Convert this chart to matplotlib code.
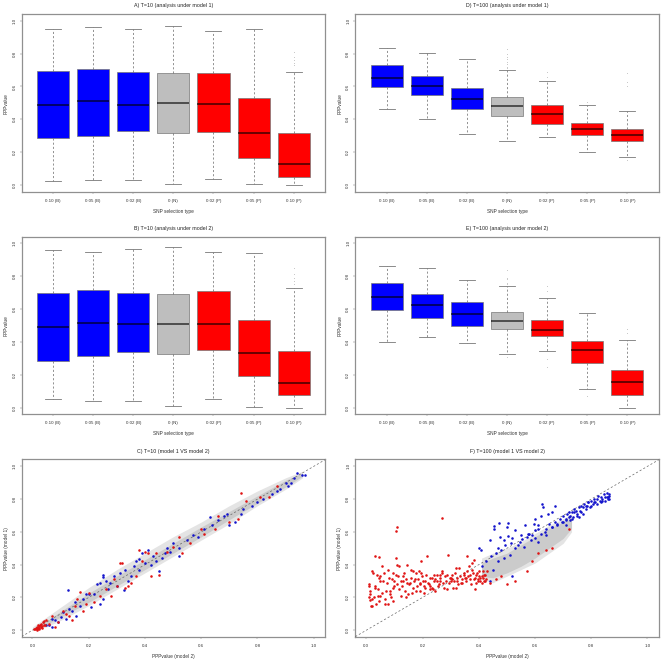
import matplotlib
matplotlib.use("Agg")
import matplotlib.pyplot as plt

plt.rcParams['font.family'] = ['Liberation Sans', 'DejaVu Sans']

# Box statistics, one value per SNP selection type
snp_labels = ['0.10 (B)', '0.05 (B)', '0.02 (B)', '0 (N)', '0.02 (P)', '0.05 (P)', '0.10 (P)']
box_colors = ['#0000ff', '#0000ff', '#0000ff', '#bebebe', '#ff0000', '#ff0000', '#ff0000']

a_hi = [.949, .961, .951, .970, .937, .949, .687]
a_q3 = [.693, .707, .691, .681, .683, .528, .319]
a_med = [.488, .514, .490, .502, .494, .317, .128]
a_q1 = [.285, .297, .329, .315, .323, .167, .051]
a_lo = [.022, .033, .028, .004, .039, .004, .000]
a_fliers = [[], [], [], [], [], [], [.813, .78, .76, .745, .73]]

d_hi = [.833, .803, .768, .699, .632, .486, .449]
d_q3 = [.728, .663, .593, .535, .486, .378, .341]
d_med = [.654, .600, .526, .478, .433, .343, .305]
d_q1 = [.596, .547, .463, .423, .374, .305, .266]
d_lo = [.461, .400, .309, .266, .291, .199, .169]
d_fliers = [[], [], [], [.827, .80, .78, .765, .75, .735, .72, .71], [.687, .66], [.508], [.685, .63, .604, .152]]

b_hi = [.956, .944, .966, .974, .944, .938, .728]
b_q3 = [.696, .716, .698, .690, .708, .532, .345]
b_med = [.494, .518, .508, .512, .510, .335, .155]
b_q1 = [.286, .319, .339, .331, .351, .194, .079]
b_lo = [.054, .042, .042, .012, .054, .010, .000]
b_fliers = [[], [], [], [], [], [], [.847, .81, .79, .77, .75]]

e_hi = [.859, .847, .774, .738, .665, .575, .411]
e_q3 = [.758, .692, .641, .583, .532, .405, .230]
e_med = [.673, .625, .569, .526, .472, .351, .159]
e_q1 = [.595, .546, .496, .478, .435, .276, .083]
e_lo = [.403, .429, .393, .327, .345, .115, .004]
e_fliers = [[], [], [], [.837, .79, .78, .76, .75, .308], [.742, .712, .296, .248], [.075], [.478, .454]]

# Scatter panels: model 2 on x, model 1 on y, read point by point
c_band_x = [.00, .05, .10, .20, .30, .40, .50, .60, .70, .80, .90, .96]
c_band_lo = [.00, .035, .08, .17, .27, .37, .47, .57, .675, .775, .875, .94]
c_band_hi = [.01, .055, .115, .225, .33, .43, .53, .63, .725, .82, .915, .96]
c_pale_lo = [.00, .02, .06, .15, .25, .35, .45, .55, .65, .76, .86, .93]
c_pale_hi = [.02, .08, .14, .26, .37, .47, .57, .66, .76, .85, .93, .97]

c_blue_x = [.125, .250, .250, .240, .260, .275, .230, .190, .200, .130,
            .150, .170, .180, .220, .210, .250, .240, .070, .060, .070,
            .090, .110, .120, .155, .050, .330, .340, .325, .360, .370,
            .380, .390, .380, .410, .430, .440, .460, .450, .480, .490,
            .500, .520, .520, .550, .570, .590, .610, .630, .660, .690,
            .700, .720, .750, .780, .820, .850, .880, .900, .920, .940,
            .960, .970, .930, .300, .290, .350, .420, .400, .270, .310,
            .640, .680, .740, .800, .870, .910, .080, .100, .140, .470]
c_blue_y = [.247, .340, .325, .290, .300, .290, .285, .220, .220, .130,
            .170, .150, .190, .220, .140, .190, .160, .070, .030, .020,
            .050, .110, .070, .090, .030, .370, .300, .245, .390, .420,
            .370, .470, .435, .490, .450, .420, .440, .360, .500, .480,
            .535, .500, .450, .550, .580, .570, .620, .690, .670, .710,
            .640, .660, .740, .760, .800, .830, .860, .900, .900, .960,
            .950, .950, .930, .270, .330, .330, .400, .410, .250, .350,
            .640, .700, .710, .780, .850, .880, .060, .080, .120, .470]
c_red_x = [.170, .740, .380, .400, .320, .310, .410, .420, .390, .440,
           .050, .070, .090, .110, .130, .160, .180, .200, .220, .260,
           .280, .300, .330, .350, .480, .520, .530, .560, .600, .610,
           .660, .700, .730, .760, .810, .840, .870, .060, .080, .120,
           .140, .150, .190, .240, .290, .340, .370, .450, .500, .650,
           .005, .010, .012, .015, .018, .020, .022, .025, .028, .030,
           .032, .035, .038, .040, .042, .015, .025, .035, .045, .020]
c_red_y = [.235, .835, .490, .480, .410, .410, .470, .330, .420, .470,
           .060, .090, .050, .120, .090, .190, .120, .230, .170, .250,
           .210, .270, .260, .290, .480, .570, .470, .530, .620, .590,
           .700, .660, .680, .790, .810, .810, .880, .040, .020, .100,
           .060, .150, .160, .210, .310, .270, .330, .340, .510, .620,
           .005, .006, .012, .010, .020, .012, .025, .015, .035, .020,
           .040, .025, .050, .030, .055, .003, .005, .015, .035, .030]

f_band_x = [.41, .45, .50, .55, .60, .65, .70, .73]
f_band_lo = [.33, .32, .35, .39, .44, .50, .56, .62]
f_band_hi = [.41, .44, .47, .52, .57, .62, .66, .68]
f_pale_lo = [.31, .29, .33, .37, .41, .47, .53, .60]
f_pale_hi = [.44, .47, .50, .54, .59, .64, .68, .71]

f_blue_x = [.402, .407, .455, .453, .471, .503, .499, .441, .475, .490,
            .505, .520, .530, .540, .555, .565, .580, .590, .600, .610,
            .620, .625, .630, .645, .660, .672, .600, .612, .595, .575,
            .545, .515, .495, .480, .460, .445, .470, .530, .560, .640,
            .650, .660, .670, .680, .690, .695, .700, .710, .715, .720,
            .725, .730, .735, .740, .745, .750, .755, .760, .765, .770,
            .775, .780, .785, .790, .795, .800, .805, .810, .815, .820,
            .825, .830, .835, .840, .845, .850, .855, .860, .862, .865,
            .700, .720, .740, .755, .770, .780, .800, .820, .840, .855,
            .710, .730, .750, .765, .790, .810, .835, .850, .860, .865,
            .550, .570, .585, .600, .620, .635, .660, .680, .610, .640,
            .470, .490, .510, .520, .450, .425, .410, .440, .710, .725]
f_blue_y = [.500, .492, .636, .616, .652, .656, .628, .551, .570, .550,
            .575, .560, .610, .520, .555, .640, .590, .580, .680, .640,
            .700, .770, .750, .710, .720, .760, .610, .620, .650, .590,
            .540, .530, .520, .490, .470, .450, .500, .500, .510, .620,
            .650, .630, .660, .650, .680, .660, .700, .670, .710, .690,
            .700, .720, .690, .720, .730, .710, .750, .730, .720, .750,
            .770, .740, .760, .780, .750, .790, .770, .800, .780, .800,
            .820, .790, .810, .800, .830, .790, .810, .800, .830, .820,
            .660, .720, .740, .690, .710, .760, .760, .770, .790, .840,
            .680, .680, .700, .760, .780, .780, .780, .810, .810, .800,
            .580, .570, .550, .560, .590, .600, .630, .640, .540, .580,
            .420, .440, .460, .330, .370, .420, .390, .300, .640, .670]

f_red_x = [.108, .105, .268, .030, .045, .010, .015, .020, .025, .030,
           .008, .012, .018, .022, .035, .040, .048, .055, .060, .065,
           .010, .014, .020, .026, .032, .038, .044, .050, .056, .062,
           .068, .072, .078, .084, .090, .096, .100, .106, .112, .118,
           .070, .076, .082, .088, .094, .098, .104, .110, .116, .122,
           .124, .130, .136, .142, .148, .154, .160, .166, .172, .178,
           .128, .134, .140, .146, .152, .158, .164, .170, .176, .182,
           .184, .190, .196, .202, .208, .214, .220, .226, .232, .238,
           .186, .192, .198, .204, .210, .216, .222, .228, .234, .240,
           .244, .250, .256, .262, .268, .274, .280, .286, .292, .298,
           .246, .252, .258, .264, .270, .276, .282, .288, .294, .300,
           .304, .310, .316, .322, .328, .334, .340, .346, .352, .358,
           .306, .312, .318, .324, .330, .336, .342, .348, .354, .360,
           .362, .368, .374, .380, .384, .388, .392, .396, .400, .404,
           .364, .370, .376, .382, .386, .390, .394, .398, .402, .406,
           .410, .414, .418, .422, .426, .430, .412, .416, .420, .424,
           .108, .190, .228, .165, .300, .240, .130, .045, .262, .375,
           .050, .095, .145, .205, .318, .195, .085, .040, .355, .610,
           .640, .720, .590, .660, .440, .460, .480, .500, .530, .570]
f_red_y = [.632, .608, .685, .450, .445, .270, .185, .360, .350, .260,
           .200, .240, .150, .190, .160, .250, .210, .390, .300, .160,
           .280, .220, .150, .200, .270, .340, .180, .300, .230, .350,
           .190, .290, .370, .220, .310, .180, .270, .440, .330, .250,
           .240, .160, .320, .200, .260, .300, .340, .280, .390, .210,
           .300, .330, .240, .310, .220, .290, .370, .260, .310, .240,
           .270, .350, .200, .400, .280, .320, .230, .300, .350, .270,
           .310, .240, .420, .300, .260, .340, .290, .270, .320, .250,
           .360, .280, .330, .230, .300, .450, .280, .320, .260, .300,
           .310, .340, .270, .300, .360, .290, .330, .250, .460, .320,
           .240, .300, .280, .320, .350, .260, .300, .340, .290, .320,
           .310, .260, .350, .300, .280, .330, .290, .340, .320, .360,
           .340, .300, .260, .320, .380, .290, .310, .350, .300, .450,
           .330, .310, .280, .350, .430, .320, .340, .300, .360, .320,
           .390, .340, .370, .310, .250, .290, .350, .310, .330, .300,
           .330, .360, .300, .340, .310, .360, .290, .320, .340, .300,
           .400, .290, .250, .360, .300, .340, .300, .320, .340, .410,
           .330, .350, .290, .270, .380, .350, .240, .210, .320, .470,
           .490, .620, .420, .500, .290, .310, .330, .280, .300, .360]


def px_axes(left, top, right, bottom):
    # reference pixel box to figure fractions
    return fig.add_axes([left / 662, 1 - bottom / 660, (right - left) / 662, (bottom - top) / 660])


def style_axes(ax, title, xlabel, ylabel, title_y):
    ax.set_title(title, fontsize=3.8, color='#222222', y=title_y, pad=0, fontweight='medium')
    ax.set_xlabel(xlabel, fontsize=3.4, color='#333333', labelpad=4.5)
    ax.set_ylabel(ylabel, fontsize=3.4, color='#333333', labelpad=3.0)
    ax.set_yticks([0, .2, .4, .6, .8, 1.0], ['0.0', '0.2', '0.4', '0.6', '0.8', '1.0'])
    ax.tick_params(length=1.6, width=0.3, color='#666666', labelsize=3.2, labelcolor='#333333', pad=2.0)
    ax.tick_params(axis='x', pad=3.0)
    ax.tick_params(axis='y', labelrotation=90)
    for label in ax.get_yticklabels():
        label.set_va('center')
    for spine in ax.spines.values():
        spine.set_linewidth(0.9)
        spine.set_edgecolor('#909090')


def box_panel(ax, title, hi, q3, med, q1, lo, fliers, ylim):
    stats = []
    for i in range(7):
        stats.append({'whishi': hi[i], 'q3': q3[i], 'med': med[i], 'q1': q1[i], 'whislo': lo[i], 'fliers': fliers[i]})
    parts = ax.bxp(stats, positions=range(1, 8), widths=0.8, patch_artist=True,
                   medianprops={'color': 'black', 'linewidth': 1.1, 'alpha': 0.75},
                   whiskerprops={'color': '#666666', 'linewidth': 0.5, 'linestyle': (0, (3, 3))},
                   capprops={'color': '#777777', 'linewidth': 0.6},
                   flierprops={'marker': 'o', 'markersize': 0.5, 'markerfacecolor': '#999999',
                               'markeredgecolor': '#aaaaaa', 'markeredgewidth': 0.1},
                   boxprops={'linewidth': 0.5, 'edgecolor': '#777777'})
    for patch, color in zip(parts['boxes'], box_colors):
        patch.set_facecolor(color)
    ax.set_xlim(0.22, 7.78)
    ax.set_ylim(*ylim)
    ax.set_xticks(range(1, 8), snp_labels)
    style_axes(ax, title, 'SNP selection type', 'PPPvalue', 1.042)


def scatter_panel(ax, title, band_x, band_lo, band_hi, pale_lo, pale_hi, blue_x, blue_y, red_x, red_y, xlim):
    ax.fill_between(band_x, pale_lo, pale_hi, color='#e4e4e4', linewidth=0, zorder=1)
    ax.fill_between(band_x, band_lo, band_hi, color='#cbcbcb', linewidth=0, zorder=2)
    ax.plot(xlim, xlim, color='#666666', linewidth=0.5, linestyle=(0, (3, 3)), zorder=3)
    ax.scatter(blue_x, blue_y, s=3.4, color='#1414cc', linewidths=0, zorder=4)
    ax.scatter(red_x, red_y, s=3.4, color='#e01414', linewidths=0, zorder=5)
    ax.set_xlim(*xlim)
    ax.set_ylim(-.043, 1.043)
    ax.set_xticks([0, .2, .4, .6, .8, 1.0], ['0.0', '0.2', '0.4', '0.6', '0.8', '1.0'])
    style_axes(ax, title, 'PPPvalue (model 2)', 'PPPvalue (model 1)', 1.035)


fig = plt.figure(figsize=(6.62, 6.60), dpi=100)

ax_a = px_axes(21.7, 14.3, 325, 192.3)
box_panel(ax_a, 'A) T=10 (analysis under model 1)', a_hi, a_q3, a_med, a_q1, a_lo, a_fliers, (-.045, 1.04))
ax_d = px_axes(355.3, 14.3, 658.7, 192.3)
box_panel(ax_d, 'D) T=100 (analysis under model 1)', d_hi, d_q3, d_med, d_q1, d_lo, d_fliers, (-.045, 1.04))
ax_b = px_axes(21.7, 237.3, 325, 414.3)
box_panel(ax_b, 'B) T=10 (analysis under model 2)', b_hi, b_q3, b_med, b_q1, b_lo, b_fliers, (-.036, 1.034))
ax_e = px_axes(355.3, 237.3, 658.7, 414.3)
box_panel(ax_e, 'E) T=100 (analysis under model 2)', e_hi, e_q3, e_med, e_q1, e_lo, e_fliers, (-.036, 1.034))

ax_c = px_axes(21.7, 459.3, 325, 637.3)
scatter_panel(ax_c, 'C) T=10 (model 1 VS model 2)', c_band_x, c_band_lo, c_band_hi, c_pale_lo, c_pale_hi,
              c_blue_x, c_blue_y, c_red_x, c_red_y, (-.038, 1.04))
ax_f = px_axes(355.3, 459.3, 658.7, 637.3)
scatter_panel(ax_f, 'F) T=100 (model 1 VS model 2)', f_band_x, f_band_lo, f_band_hi, f_pale_lo, f_pale_hi,
              f_blue_x, f_blue_y, f_red_x, f_red_y, (-.039, 1.04))

fig.savefig('out.png', dpi=100)
plt.close()
